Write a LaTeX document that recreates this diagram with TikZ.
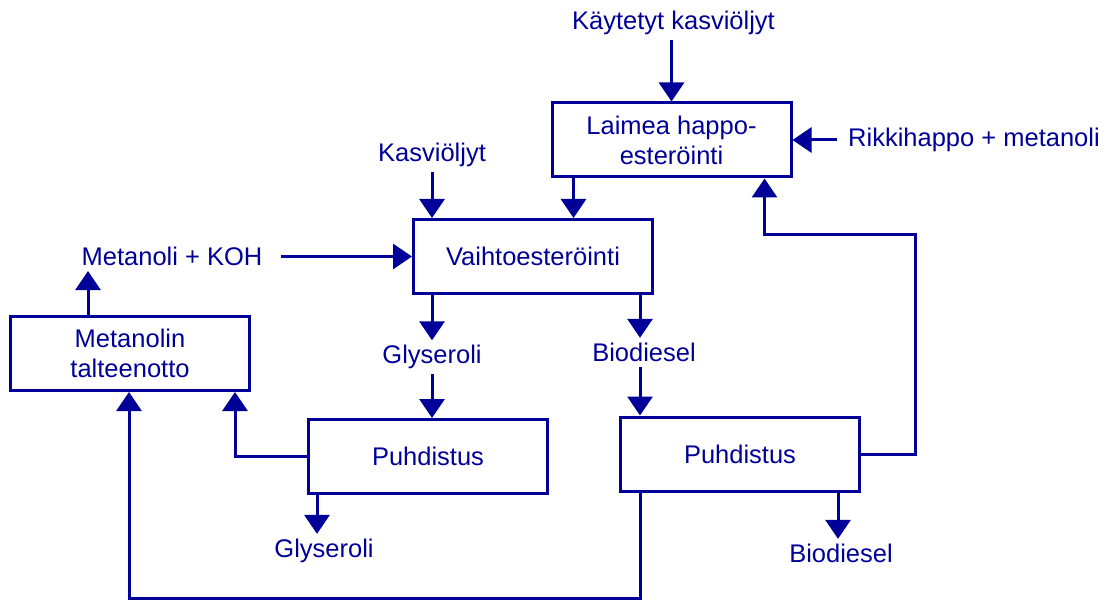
\documentclass[tikz,border=0pt]{standalone}
\usepackage{fontspec}
\setmainfont{Liberation Sans}
\usetikzlibrary{arrows.meta}
\definecolor{flowblue}{RGB}{0,0,153}

\begin{document}
\begin{tikzpicture}[x=1pt, y=-1pt,
    every node/.style={text=flowblue, font=\fontsize{25.5}{30}\selectfont},
    box/.style={draw=flowblue, line width=3pt, minimum width=239pt,
        minimum height=74pt, align=center, inner sep=0pt},
    lbl/.style={inner sep=5pt},
    flow/.style={draw=flowblue, line width=3pt, -{Triangle[width=25pt,length=19pt]}}]
    \useasboundingbox (0,0) rectangle (1107,601);
    % process steps
    \node[box] (laimea) at (671.5,140) {Laimea happo-\\esteröinti};
    \node[box] (vaihto) at (533,256.5) {Vaihtoesteröinti};
    \node[box] (talteen) at (130,353.5) {Metanolin\\talteenotto};
    \node[box] (puhL) at (428,456.5) {Puhdistus};
    \node[box] (puhR) at (740,454) {Puhdistus};
    % feeds and products
    \node[lbl] (kaytetyt) at (673.5,23.4) {Käytetyt kasviöljyt};
    \node[lbl] (rikki) at (974,140) {Rikkihappo + metanoli};
    \node[lbl] (kasvi) at (432,155) {Kasviöljyt};
    \node[lbl] (metkoh) at (172,256.5) {Metanoli + KOH};
    \node[lbl] (glyA) at (432,357.4) {Glyseroli};
    \node[lbl] (bioA) at (644,352.4) {Biodiesel};
    \node[lbl] (glyB) at (324,551) {Glyseroli};
    \node[lbl] (bioB) at (841,553.4) {Biodiesel};
    % flows
    \draw[flow] (kaytetyt.south -| laimea.north) -- (laimea.north);
    \draw[flow, shorten <=6pt] (rikki.west) -- (laimea.east);
    \draw[flow] ([xshift=23pt]laimea.south west) -- ([xshift=23pt]laimea.south west |- vaihto.north);
    \draw[flow] (kasvi.south) -- (kasvi.south |- vaihto.north);
    \draw[flow, shorten <=13pt] (metkoh.east) -- (vaihto.west);
    \draw[flow] (vaihto.south -| glyA) -- (glyA.north);
    \draw[flow] ([xshift=-4pt]vaihto.south -| bioA) -- ([xshift=-4pt]bioA.north);
    \draw[flow] (glyA.south) -- (glyA.south |- puhL.north);
    \draw[flow] ([xshift=-4pt]bioA.south) -- ([xshift=-4pt]bioA.south |- puhR.north);
    \draw[flow] ([xshift=10pt]puhL.south west) -- ([xshift=10pt]puhL.south west |- glyB.north);
    \draw[flow] ([xshift=-23pt]puhR.south east) -- ([xshift=-23pt]puhR.south east |- bioB.north);
    \draw[flow] (puhL.west) -| ([xshift=-16pt]talteen.south east);
    \draw[flow] ([xshift=21pt]puhR.south west) -- ++(0,106) -| ([xshift=-1pt]talteen.south);
    \draw[flow] (puhR.east) -- ++(54,0) -- ++(0,-219) -| ([xshift=-28pt]laimea.south east);
    \draw[flow] ([xshift=-42pt]talteen.north) -- ([xshift=-42pt]talteen.north |- metkoh.south);
\end{tikzpicture}
\end{document}
